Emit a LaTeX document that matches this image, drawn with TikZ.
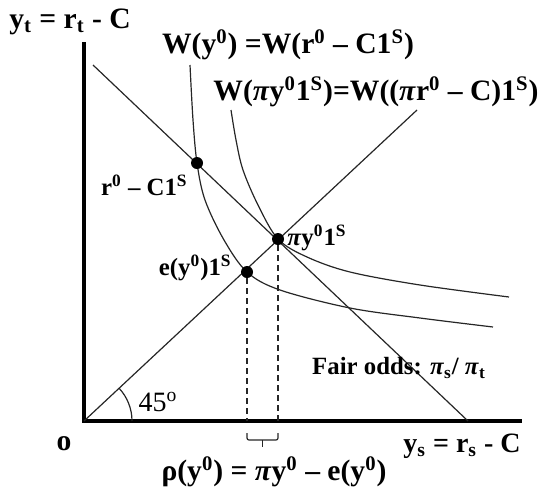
\documentclass[tikz,border=0pt]{standalone}
\usepackage{fontspec}
\setmainfont{Liberation Serif}
\usetikzlibrary{positioning}

\begin{document}
\begin{tikzpicture}[
    x=0.5pt, y=-0.5pt,
    font=\fontsize{14.8}{16}\selectfont\bfseries,
    axis/.style={line width=1.6pt, line cap=rect},
    thinline/.style={line width=0.6pt, black!85},
    dot/.style={circle, fill, inner sep=0pt, minimum size=6pt},
    lbl/.style={inner sep=1pt},
    small/.style={font=\fontsize{12.4}{14}\selectfont\bfseries},
  ]
    \useasboundingbox (0,0) rectangle (539,493);
    % axes
    \coordinate (O) at (84,421);
    \coordinate (ytop) at (84,44);
    \coordinate (xend) at (520,421);
    \draw[axis] (ytop) -- (O) -- (xend);
    % fair odds line and 45 degree line
    \coordinate (fa) at (93,65);
    \coordinate (fb) at (468,421);
    \coordinate (d45) at (417,110);
    \draw[thinline] (fa) -- (fb);
    \draw[thinline] (O) -- (d45);
    \draw[thinline] (O) ++(48,0) arc[start angle=0, end angle=-43, radius=48];
    % indifference curves
    \draw[thinline] plot[smooth, tension=0.55] coordinates {(190,65) (193,120) (197,163) (205,200) (224,240) (247,272) (280,290) (350,308) (420,318) (493,327)};
    \draw[thinline] plot[smooth, tension=0.55] coordinates {(231,110) (236,140) (243,170) (258,205) (278,239) (307,257) (350,272) (420,285) (509,297)};
    % points
    \node[dot] (r0) at (197,163) {};
    \node[dot] (py) at (278,239) {};
    \node[dot] (e) at (247,272) {};
    \draw[thinline, dashed, dash pattern=on 3pt off 2pt] (e) -- (e |- O);
    \draw[thinline, dashed, dash pattern=on 3pt off 2pt] (py) -- (py |- O);
    % bracket
    \draw[thinline, rounded corners=1pt] (247,433) -- (247,440) -- (278,440) -- (278,433);
    \draw[thinline] (262.5,440) -- (262.5,447);
    % labels
    \node[lbl] (ylab) at (70,22) {y\textsubscript{t} = r\textsubscript{t} - C};
    \node[lbl] (w1) at (288,45) {W(y\textsuperscript{0}) =W(r\textsuperscript{0} – C1\textsuperscript{S})};
    \node[lbl] (w2) at (376,92) {W(\textit{π}y\textsuperscript{0}1\textsuperscript{S})=W((\textit{π}r\textsuperscript{0} – C)1\textsuperscript{S})};
    \node[lbl, small, anchor=east] (r0lab) at (190,185) {r\textsuperscript{0} – C1\textsuperscript{S}};
    \node[lbl, small, anchor=west] (pylab) at (285,238) {\textit{π}y\textsuperscript{0}1\textsuperscript{S}};
    \node[lbl, small, anchor=east] (elab) at (234,268) {e(y\textsuperscript{0})1\textsuperscript{S}};
    \node[lbl, small] (fair) at (399,368) {Fair odds: \textit{π}\textsubscript{s}/ \textit{π}\textsubscript{t}};
    \node[lbl, font=\fontsize{14}{16}\selectfont\mdseries] (ang) at (158,402) {45\textsuperscript{o}};
    \node[lbl] (olab) at (64,444) {o};
    \node[lbl, font=\fontsize{14}{16}\selectfont\bfseries] (xlab) at (462,446) {y\textsubscript{s} = r\textsubscript{s} - C};
    \node[lbl] (rho) at (274,472) {ρ(y\textsuperscript{0}) = \textit{π}y\textsuperscript{0} – e(y\textsuperscript{0})};
  \end{tikzpicture}
\end{document}
